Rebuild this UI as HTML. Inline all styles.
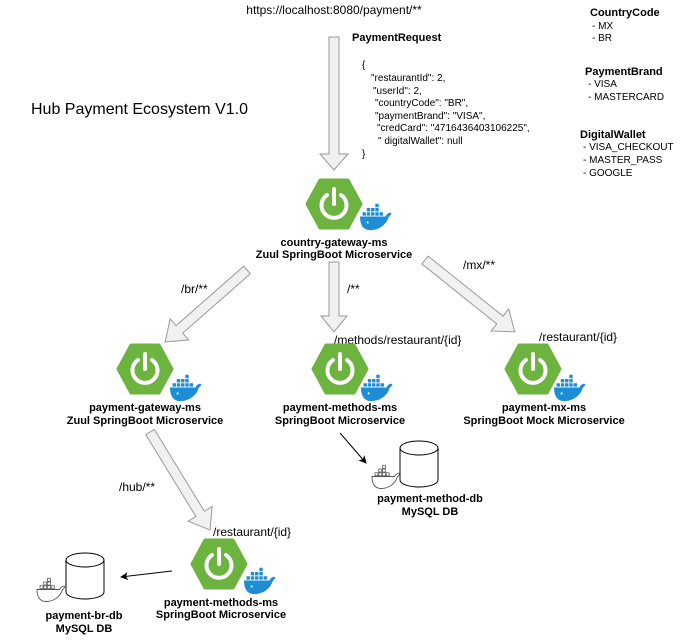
<!DOCTYPE html>
<html><head><meta charset="utf-8"><style>
html,body{margin:0;padding:0;background:#fff;}
svg{display:block;font-family:"Liberation Sans",Arial,sans-serif;}
.b{font-weight:bold;font-size:11px;}
.t{font-size:12px;}
.j{font-size:10px;}
</style></head><body>
<svg width="688" height="643" viewBox="0 0 688 643" xmlns="http://www.w3.org/2000/svg">
<defs>
<g id="spring">
<polygon points="-27,0 -14,-24 14,-24 27,0 14,24 -14,24" fill="#6db33f" stroke="#6db33f" stroke-width="3" stroke-linejoin="round"/>
<path d="M -7,-9 A 12.5 12.5 0 1 0 7,-9" fill="none" stroke="#fff" stroke-width="4" stroke-linecap="round"/>
<line x1="0" y1="-15" x2="0" y2="0" stroke="#fff" stroke-width="4" stroke-linecap="round"/>
</g>
<g id="docker0">
<path d="M0,10 L30,10 C32,6 35,5 37,6 C36,8 36,9 34,10 C31,20 22,26 12,26 C4,26 0,20 0,10 Z" fill="#1d8ed4"/>
<g fill="#1d8ed4">
<rect x="3" y="5" width="4" height="4"/><rect x="8" y="5" width="4" height="4"/><rect x="13" y="5" width="4" height="4"/><rect x="18" y="5" width="4" height="4"/><rect x="23" y="5" width="4" height="4"/>
<rect x="8" y="0" width="4" height="4"/><rect x="13" y="0" width="4" height="4"/><rect x="18" y="0" width="4" height="4"/>
<rect x="18" y="-5" width="4" height="4"/>
</g>
<circle cx="9" cy="17" r="1.2" fill="#fff"/>
</g>
<g id="docker"><use href="#docker0" transform="scale(0.85)"/></g>
<g id="dockerg0">
<path d="M0,10 L30,10 C32,6 35,5 37,6 C36,8 36,9 34,10 C31,20 22,26 12,26 C4,26 0,20 0,10 Z" fill="none" stroke="#555" stroke-width="1.2"/>
<g fill="none" stroke="#555" stroke-width="1">
<rect x="4" y="5" width="4" height="4"/><rect x="9" y="5" width="4" height="4"/><rect x="14" y="5" width="4" height="4"/><rect x="19" y="5" width="4" height="4"/>
<rect x="9" y="0" width="4" height="4"/><rect x="14" y="0" width="4" height="4"/><rect x="14" y="-5" width="4" height="4"/>
</g>
</g>
<g id="dockerg"><use href="#dockerg0" transform="scale(0.75)"/></g>
<g id="cyl">
<path d="M0,7 L0,39 A19 7 0 0 0 38,39 L38,7" fill="#fff" stroke="#000" stroke-width="1"/>
<ellipse cx="19" cy="7" rx="19" ry="7" fill="#fff" stroke="#000" stroke-width="1"/>
</g>
<marker id="ah" markerWidth="8" markerHeight="8" refX="7" refY="4" orient="auto" markerUnits="userSpaceOnUse"><path d="M0,0 L8,4 L0,8 L2,4 Z" fill="#000"/></marker>
</defs>

<g fill="#f1f1f1" stroke="#999" stroke-width="1">
<polygon transform="translate(334,37) rotate(90)" points="0,-5 117,-5 117,-14 133,0 117,14 117,5 0,5"/>
<polygon transform="translate(247,270) rotate(138.7)" points="0,-5 90,-5 90,-14 109,0 90,14 90,5 0,5"/>
<polygon transform="translate(334,262) rotate(90)" points="0,-5 54,-5 54,-13 70,0 54,13 54,5 0,5"/>
<polygon transform="translate(425,260) rotate(38.7)" points="0,-5 96,-5 96,-14 115,0 96,14 96,5 0,5"/>
<polygon transform="translate(150,432) rotate(58.5)" points="0,-5 96,-5 96,-14 115,0 96,14 96,5 0,5"/>
</g>

<line x1="340" y1="433" x2="366" y2="463" stroke="#000" stroke-width="1" marker-end="url(#ah)"/>
<line x1="172" y1="571" x2="121" y2="577" stroke="#000" stroke-width="1" marker-end="url(#ah)"/>

<text x="334" y="14" class="t" text-anchor="middle">https://localhost:8080/payment/**</text>
<text x="352" y="41" class="b">PaymentRequest</text>
<g class="j">
<text x="362" y="68">{</text>
<text x="371" y="81">"restaurantId": 2,</text>
<text x="373" y="94">"userId": 2,</text>
<text x="375" y="106">"countryCode": "BR",</text>
<text x="375" y="119">"paymentBrand": "VISA",</text>
<text x="377" y="131">"credCard": "4716436403106225",</text>
<text x="378" y="144">" digitalWallet": null</text>
<text x="362" y="157">}</text>
</g>
<text x="31" y="114" font-size="16">Hub Payment Ecosystem V1.0</text>

<text x="590" y="16" class="b">CountryCode</text>
<text x="592" y="29" class="j">- MX</text>
<text x="592" y="41" class="j">- BR</text>
<text x="585" y="75" class="b">PaymentBrand</text>
<text x="588" y="87" class="j">- VISA</text>
<text x="588" y="100" class="j">- MASTERCARD</text>
<text x="580" y="138" class="b">DigitalWallet</text>
<text x="583" y="150" class="j">- VISA_CHECKOUT</text>
<text x="583" y="163" class="j">- MASTER_PASS</text>
<text x="583" y="176" class="j">- GOOGLE</text>

<use href="#spring" x="334" y="204"/>
<use href="#docker" x="360" y="208"/>
<text x="334" y="246" class="b" text-anchor="middle">country-gateway-ms</text>
<text x="334" y="258" class="b" text-anchor="middle">Zuul SpringBoot Microservice</text>

<text x="181" y="293" class="t">/br/**</text>
<text x="347" y="293" class="t">/**</text>
<text x="463" y="269" class="t">/mx/**</text>
<text x="334" y="344" class="t">/methods/restaurant/{id}</text>
<text x="539" y="341" class="t">/restaurant/{id}</text>

<use href="#spring" x="145" y="369"/>
<use href="#docker" x="170" y="379"/>
<text x="145" y="411" class="b" text-anchor="middle">payment-gateway-ms</text>
<text x="145" y="424" class="b" text-anchor="middle">Zuul SpringBoot Microservice</text>

<use href="#spring" x="340" y="369"/>
<use href="#docker" x="361" y="379"/>
<text x="340" y="411" class="b" text-anchor="middle">payment-methods-ms</text>
<text x="340" y="424" class="b" text-anchor="middle">SpringBoot Microservice</text>

<use href="#spring" x="533" y="369"/>
<use href="#docker" x="554" y="379"/>
<text x="544" y="411" class="b" text-anchor="middle">payment-mx-ms</text>
<text x="544" y="424" class="b" text-anchor="middle">SpringBoot Mock Microservice</text>

<use href="#cyl" x="400" y="441"/>
<use href="#dockerg" x="372" y="469"/>
<text x="430" y="502" class="b" text-anchor="middle">payment-method-db</text>
<text x="430" y="515" class="b" text-anchor="middle">MySQL DB</text>

<text x="119" y="491" class="t">/hub/**</text>
<text x="213" y="536" class="t">/restaurant/{id}</text>

<use href="#spring" x="219" y="564"/>
<use href="#docker" x="244" y="572"/>
<text x="221" y="606" class="b" text-anchor="middle">payment-methods-ms</text>
<text x="221" y="618" class="b" text-anchor="middle">SpringBoot Microservice</text>

<use href="#cyl" x="66" y="553"/>
<use href="#dockerg" x="37" y="582"/>
<text x="84" y="619" class="b" text-anchor="middle">payment-br-db</text>
<text x="84" y="632" class="b" text-anchor="middle">MySQL DB</text>
</svg>
</body></html>
